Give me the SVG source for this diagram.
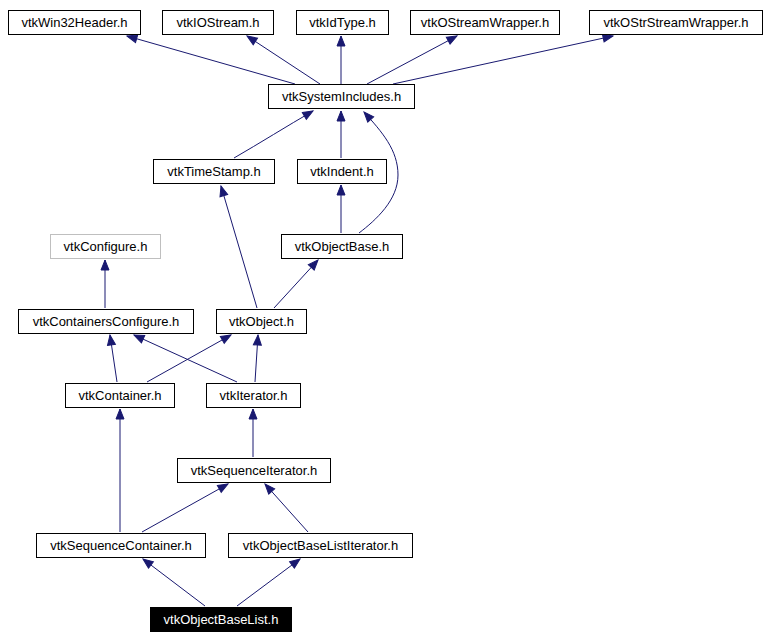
<svg xmlns="http://www.w3.org/2000/svg" width="770" height="639" viewBox="0 0 770 639">
<style>
.n rect{fill:#fff;stroke:#000;stroke-width:1}
.n text{font-family:"Liberation Sans",Arial,sans-serif;font-size:13px;text-anchor:middle;fill:#000}
#configure rect{stroke:#bfbfbf}
#objectbaselist rect{fill:#000}
#objectbaselist text{fill:#fff}
.e path{fill:none;stroke:#191970;stroke-width:1;marker-end:url(#ah)}
</style>
<defs>
<marker id="ah" markerUnits="userSpaceOnUse" markerWidth="11" markerHeight="9" refX="10" refY="4" orient="auto" viewBox="0 0 11 8" overflow="visible">
<path d="M0,0 L10,4 L0,8 z" fill="#191970" stroke="#191970" stroke-width="1"/>
</marker>
</defs>
<rect width="770" height="639" fill="#fff"/>
<g class="e" id="connectors">
<path d="M295,84 L127,36"/>
<path d="M320,84 L247,36"/>
<path d="M341,84 L341,36"/>
<path d="M367,84 L457,36"/>
<path d="M393,84 L613,36"/>
<path d="M234,158 C260,143 287,126 313,111"/>
<path d="M341,158 L341,111"/>
<path d="M359,233 C376,220 398,200 398,175 C398,150 382,132 364,112"/>
<path d="M341,233 L341,185"/>
<path d="M257,308 L221,186"/>
<path d="M274,308 L318,260"/>
<path d="M105,308 L105,260"/>
<path d="M117,382 L110,335"/>
<path d="M147,382 L231,335"/>
<path d="M237,382 L134,335"/>
<path d="M255,382 L258,335"/>
<path d="M120,532 L120,409"/>
<path d="M253,457 L253,409"/>
<path d="M142,532 L228,484"/>
<path d="M308,532 L265,484"/>
<path d="M205,606 L143,559"/>
<path d="M237,606 L300,559"/>
</g>
<g class="n" id="win32header"><rect x="8.5" y="10.5" width="132" height="24"/><text x="74.5" y="27">vtkWin32Header.h</text></g>
<g class="n" id="iostream"><rect x="162.5" y="10.5" width="111" height="24"/><text x="218" y="27">vtkIOStream.h</text></g>
<g class="n" id="idtype"><rect x="296.5" y="10.5" width="92" height="24"/><text x="342.5" y="27">vtkIdType.h</text></g>
<g class="n" id="ostreamwrapper"><rect x="410.5" y="10.5" width="149" height="24"/><text x="485" y="27">vtkOStreamWrapper.h</text></g>
<g class="n" id="ostrstreamwrapper"><rect x="589.5" y="10.5" width="173" height="24"/><text x="676" y="27">vtkOStrStreamWrapper.h</text></g>
<g class="n" id="systemincludes"><rect x="268.5" y="84.5" width="146" height="24"/><text x="341.5" y="101">vtkSystemIncludes.h</text></g>
<g class="n" id="timestamp"><rect x="153.5" y="159.5" width="121" height="24"/><text x="214" y="176">vtkTimeStamp.h</text></g>
<g class="n" id="indent"><rect x="297.5" y="159.5" width="89" height="24"/><text x="342" y="176">vtkIndent.h</text></g>
<g class="n" id="configure"><rect x="50.5" y="234.5" width="110" height="24"/><text x="105.5" y="251">vtkConfigure.h</text></g>
<g class="n" id="objectbase"><rect x="281.5" y="234.5" width="121" height="24"/><text x="342" y="251">vtkObjectBase.h</text></g>
<g class="n" id="containersconfigure"><rect x="18.5" y="309.5" width="175" height="24"/><text x="106" y="326">vtkContainersConfigure.h</text></g>
<g class="n" id="object"><rect x="216.5" y="309.5" width="90" height="24"/><text x="261.5" y="326">vtkObject.h</text></g>
<g class="n" id="container"><rect x="65.5" y="383.5" width="109" height="24"/><text x="120" y="400">vtkContainer.h</text></g>
<g class="n" id="iterator"><rect x="206.5" y="383.5" width="94" height="24"/><text x="253.5" y="400">vtkIterator.h</text></g>
<g class="n" id="sequenceiterator"><rect x="177.5" y="458.5" width="153" height="24"/><text x="254" y="475">vtkSequenceIterator.h</text></g>
<g class="n" id="sequencecontainer"><rect x="36.5" y="533.5" width="169" height="24"/><text x="121" y="550">vtkSequenceContainer.h</text></g>
<g class="n" id="objectbaselistiterator"><rect x="228.5" y="533.5" width="184" height="24"/><text x="320.5" y="550">vtkObjectBaseListIterator.h</text></g>
<g class="n" id="objectbaselist"><rect x="150.5" y="607.5" width="141" height="24"/><text x="221" y="624">vtkObjectBaseList.h</text></g>
</svg>
